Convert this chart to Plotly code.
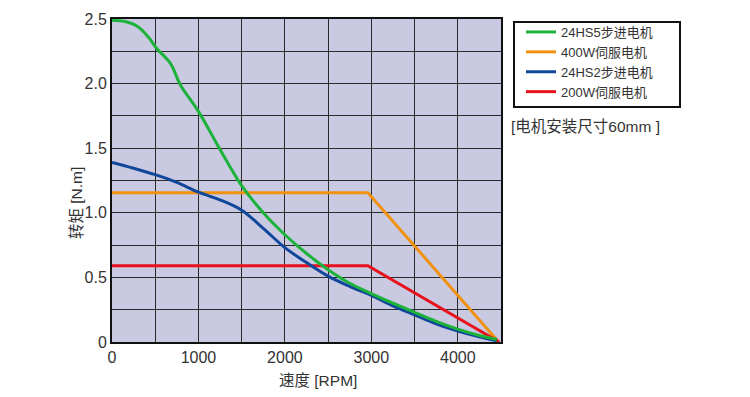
import plotly.graph_objects as go

# ---- data ----
green_name = "24HS5步进电机"
green_x = [0, 150, 300, 420, 520, 677, 792, 1000, 1250, 1500, 1750, 2000, 2250, 2500, 2750, 3000, 3250, 3500, 3750, 4000, 4250, 4450]
green_y = [2.49, 2.48, 2.44, 2.36, 2.27, 2.155, 1.99, 1.785, 1.49, 1.21, 1.00, 0.83, 0.685, 0.56, 0.455, 0.375, 0.30, 0.23, 0.16, 0.10, 0.05, 0.02]

orange_name = "400W伺服电机"
orange_x = [0, 2960, 4460]
orange_y = [1.155, 1.155, 0.01]

blue_name = "24HS2步进电机"
blue_x = [0, 250, 500, 750, 1000, 1250, 1500, 1750, 2000, 2250, 2500, 2750, 3000, 3250, 3500, 3750, 4000, 4250, 4450]
blue_y = [1.39, 1.345, 1.295, 1.235, 1.16, 1.10, 1.02, 0.88, 0.73, 0.615, 0.51, 0.43, 0.36, 0.28, 0.21, 0.14, 0.085, 0.04, 0.01]

red_name = "200W伺服电机"
red_x = [0, 2960, 4480]
red_y = [0.59, 0.59, 0.0]

x_tickvals = [0, 500, 1000, 1500, 2000, 2500, 3000, 3500, 4000, 4500]
x_ticktext = ["0", "", "1000", "", "2000", "", "3000", "", "4000", ""]
y_tickvals = [0, 0.25, 0.5, 0.75, 1.0, 1.25, 1.5, 1.75, 2.0, 2.25, 2.5]
y_ticktext = ["0", "", "0.5", "", "1.0", "", "1.5", "", "2.0", "", "2.5"]

note_text = "[电机安装尺寸60mm ]"
x_title = "速度 [RPM]"
y_title = "转矩 [N.m]"

FONT = "Liberation Sans Narrow, Arial Narrow, Liberation Sans, Noto Sans CJK SC, sans-serif"
CJK = "Liberation Sans, Noto Sans CJK SC, sans-serif"

L, R, T, B = 112, 249, 19, 55
PW, PH = 750 - L - R, 397 - T - B


def px(xp):
    return (xp - L) / PW


def py(yp):
    return (397 - B - yp) / PH


fig = go.Figure()
fig.add_trace(go.Scatter(x=orange_x, y=orange_y, mode="lines", name=orange_name,
                         line=dict(color="#f0920f", width=3), legendrank=2))
fig.add_trace(go.Scatter(x=red_x, y=red_y, mode="lines", name=red_name,
                         line=dict(color="#e8121c", width=3), legendrank=4))
fig.add_trace(go.Scatter(x=blue_x, y=blue_y, mode="lines", name=blue_name,
                         line=dict(color="#10479a", width=3, shape="spline", smoothing=1.0), legendrank=3))
fig.add_trace(go.Scatter(x=green_x, y=green_y, mode="lines", name=green_name,
                         line=dict(color="#1db33a", width=3, shape="spline", smoothing=1.0), legendrank=1))

axis_common = dict(showline=True, linecolor="#111111", linewidth=2, mirror=True,
                   showgrid=True, gridcolor="#2a2a2a", gridwidth=1.4,
                   zeroline=False, ticks="", tickfont=dict(family=FONT, size=16, color="#333333"))

fig.update_layout(
    width=750, height=397,
    margin=dict(l=L, r=R, t=T, b=B),
    paper_bgcolor="white",
    plot_bgcolor="#c9c9e1",
    showlegend=True,
    legend=dict(x=px(521), y=py(17), xanchor="left", yanchor="top",
                borderwidth=0, bgcolor="rgba(0,0,0,0)",
                font=dict(family=CJK, size=13, color="#333333"),
                tracegroupgap=0, itemwidth=30),
    xaxis=dict(range=[0, 4500], tickvals=x_tickvals, ticktext=x_ticktext, **axis_common),
    yaxis=dict(range=[0, 2.5], tickvals=y_tickvals, ticktext=y_ticktext, **axis_common),
    shapes=[
        dict(type="rect", xref="paper", yref="paper", x0=px(514), x1=px(680), y0=py(107), y1=py(22),
             line=dict(color="#111111", width=2), fillcolor="rgba(0,0,0,0)", layer="above"),
    ],
    annotations=[
        dict(text=note_text, xref="paper", yref="paper", x=px(509), y=py(126),
             xanchor="left", yanchor="middle", showarrow=False,
             font=dict(family=CJK, size=15.5, color="#333333")),
        dict(text=x_title, xref="paper", yref="paper", x=px(318), y=py(380),
             xanchor="center", yanchor="middle", showarrow=False,
             font=dict(family=CJK, size=15.5, color="#333333")),
        dict(text=y_title, xref="paper", yref="paper", x=px(76), y=py(203),
             xanchor="center", yanchor="middle", showarrow=False, textangle=-90,
             font=dict(family=CJK, size=15.5, color="#333333")),
    ],
)

fig.write_html("out.html", config={"displayModeBar": False},
               post_script="document.body.style.margin='0';document.body.style.padding='0';")
